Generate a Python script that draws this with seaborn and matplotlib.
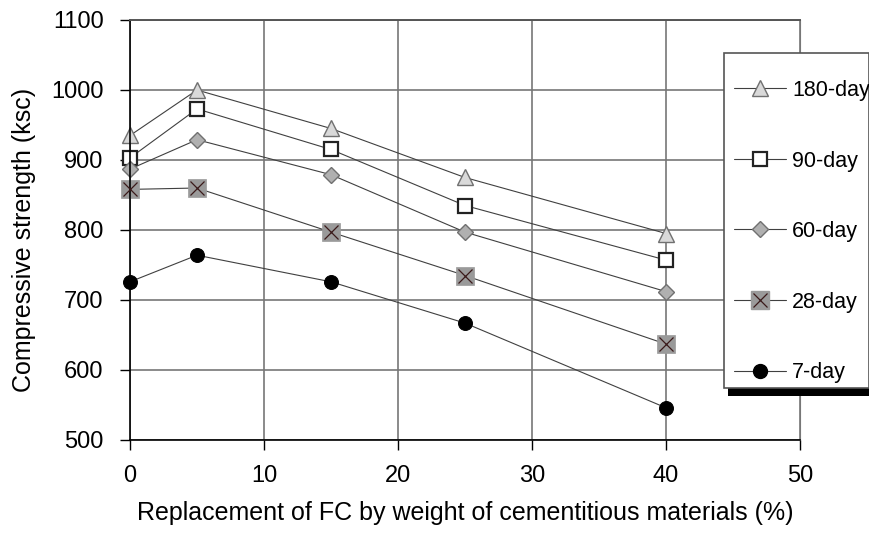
import numpy as np
import pandas as pd
import matplotlib
matplotlib.use("Agg")
import matplotlib.pyplot as plt
import seaborn as sns
from matplotlib.lines import Line2D
from matplotlib.patches import Rectangle
from matplotlib.legend_handler import HandlerTuple

# Données
replacement = [0, 5, 15, 25, 40]
day180 = [935, 1000, 945, 875, 795]
day90 = [903, 973, 915, 835, 757]
day60 = [887, 929, 879, 797, 712]
day28 = [858, 860, 797, 735, 637]
day7 = [726, 764, 726, 667, 546]

sns.set_style("white")
plt.rcParams['font.family'] = ['Liberation Sans', 'DejaVu Sans']
plt.rcParams['text.color'] = 'black'
plt.rcParams['axes.labelcolor'] = 'black'

W, H = 870, 536
fig = plt.figure(figsize=(W / 100, H / 100), dpi=100)
ax = fig.add_axes([130 / W, 1 - 440 / H, 670 / W, 420 / H])

line_kw = dict(color='#404040', linewidth=0.8)

sns.lineplot(x=replacement, y=day180, ax=ax, marker='^', markersize=11,
             markerfacecolor='#d9d9d9', markeredgecolor='#707070', markeredgewidth=1, **line_kw)
sns.lineplot(x=replacement, y=day90, ax=ax, marker='s', markersize=10,
             markerfacecolor='white', markeredgecolor='#222222', markeredgewidth=1.6, **line_kw)
sns.lineplot(x=replacement, y=day60, ax=ax, marker='D', markersize=8,
             markerfacecolor='#b0b0b0', markeredgecolor='#707070', markeredgewidth=1, **line_kw)
sns.lineplot(x=replacement, y=day28, ax=ax, marker='s', markersize=13,
             markerfacecolor='#9a9a9a', markeredgecolor='#9a9a9a', markeredgewidth=0.5, **line_kw)
ax.plot(replacement, day28, linestyle='none', marker='x', markersize=10,
        markeredgecolor='#3a1a1a', markeredgewidth=0.9, zorder=5)
sns.lineplot(x=replacement, y=day7, ax=ax, marker='o', markersize=10,
             markerfacecolor='black', markeredgecolor='black', **line_kw)

ax.set_xlim(0, 50)
ax.set_ylim(500, 1100)
ax.set_xticks(range(0, 51, 10))
ax.set_yticks(range(500, 1101, 100))
ax.grid(True, color='#777777', linewidth=1.2)
ax.set_axisbelow(True)
for side in ['left', 'bottom']:
    ax.spines[side].set_color('black')
    ax.spines[side].set_linewidth(1.2)
ax.spines['top'].set_color('#555555')
ax.spines['top'].set_linewidth(1.4)
ax.spines['right'].set_color('#777777')
ax.tick_params(axis='both', which='both', direction='out', length=7, width=1,
               colors='black', labelsize=17, bottom=True, left=True)
ax.tick_params(axis='x', pad=11)
ax.tick_params(axis='y', pad=12)
for line in ax.lines:
    line.set_clip_on(False)

ax.set_xlabel('Replacement of FC by weight of cementitious materials (%)', fontsize=18, labelpad=10)
ax.set_ylabel('Compressive strength (ksc)', fontsize=18)
ax.yaxis.set_label_coords(-0.14, 0.476)

# Cadre de légende + ombre noire, dessinés à la main
shadow = Rectangle((728 / W, 1 - 396 / H), 142 / W, 340 / H,
                   transform=fig.transFigure, facecolor='black', edgecolor='none', zorder=9)
frame = Rectangle((724 / W, 1 - 388 / H), 145 / W, 335 / H,
                  transform=fig.transFigure, facecolor='white', edgecolor='#555555',
                  linewidth=1.2, zorder=9.5)
fig.patches.extend([shadow, frame])

h180 = Line2D([], [], marker='^', markersize=11, markerfacecolor='#d9d9d9',
              markeredgecolor='#707070', **line_kw)
h90 = Line2D([], [], marker='s', markersize=10, markerfacecolor='white',
             markeredgecolor='#222222', markeredgewidth=1.6, **line_kw)
h60 = Line2D([], [], marker='D', markersize=8, markerfacecolor='#b0b0b0',
             markeredgecolor='#707070', **line_kw)
h28a = Line2D([], [], marker='s', markersize=13, markerfacecolor='#9a9a9a',
              markeredgecolor='#9a9a9a', **line_kw)
h28b = Line2D([], [], linestyle='none', marker='x', markersize=10,
              markeredgecolor='#3a1a1a', markeredgewidth=0.9)
h7 = Line2D([], [], marker='o', markersize=10, markerfacecolor='black',
            markeredgecolor='black', **line_kw)

leg = fig.legend([h180, h90, h60, (h28a, h28b), h7],
                 ['180-day', '90-day', '60-day', '28-day', '7-day'],
                 handler_map={tuple: HandlerTuple(ndivide=1, pad=0)},
                 loc='upper left', bbox_to_anchor=(734 / W, 1 - 80 / H),
                 frameon=False, fontsize=15.5, labelspacing=2.3, handlelength=2.4,
                 handletextpad=0.3, borderpad=0, borderaxespad=0)
leg.set_zorder(10)

fig.savefig('out.png', dpi=100)
